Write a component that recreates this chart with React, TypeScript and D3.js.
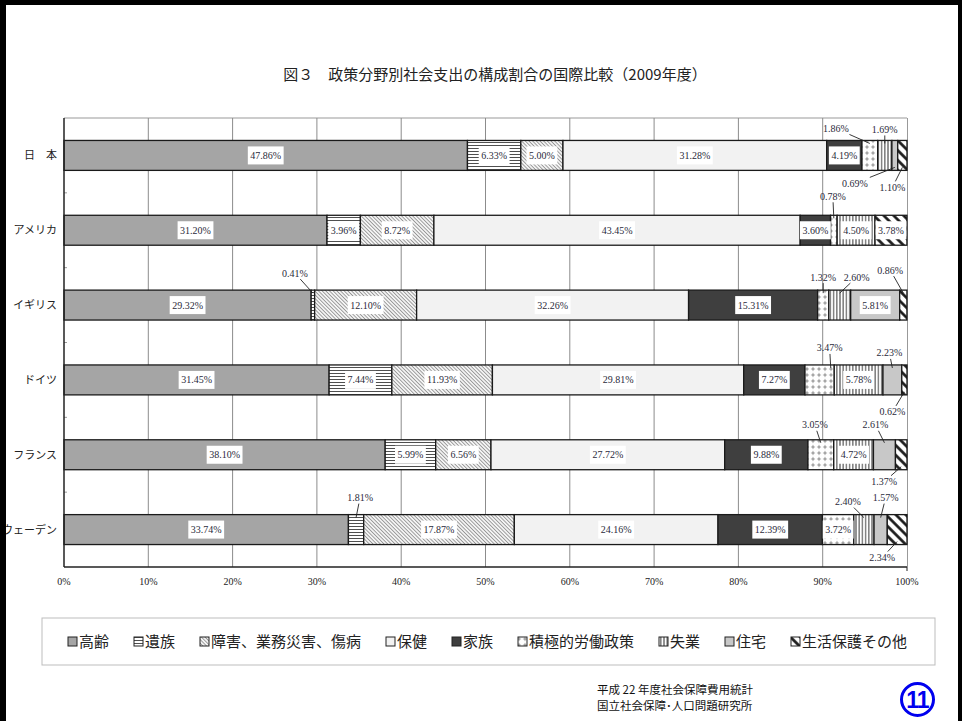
import React from 'react';
import * as d3 from 'd3';

const countries = ['日　本', 'アメリカ', 'イギリス', 'ドイツ', 'フランス', 'スウェーデン'];
const categories = ['高齢', '遺族', '障害、業務災害、傷病', '保健', '家族', '積極的労働政策', '失業', '住宅', '生活保護その他'];

const aged = [47.86, 31.2, 29.32, 31.45, 38.1, 33.74];
const survivors = [6.33, 3.96, 0.41, 7.44, 5.99, 1.81];
const disability = [5.0, 8.72, 12.1, 11.93, 6.56, 17.87];
const health = [31.28, 43.45, 32.26, 29.81, 27.72, 24.16];
const family = [4.19, 3.6, 15.31, 7.27, 9.88, 12.39];
const almp = [1.86, 0.78, 1.32, 3.47, 3.05, 3.72];
const unemployment = [1.69, 4.5, 2.6, 5.78, 4.72, 2.4];
const housing = [0.69, 0, 5.81, 2.23, 2.61, 1.57];
const other = [1.1, 3.78, 0.86, 0.62, 1.37, 2.34];

const seriesValues = [aged, survivors, disability, health, family, almp, unemployment, housing, other];
const xTicks = [0, 10, 20, 30, 40, 50, 60, 70, 80, 90, 100];

const title = '図３　政策分野別社会支出の構成割合の国際比較（2009年度）';
const footer1 = '平成 22 年度社会保障費用統計';
const footer2 = '国立社会保障･人口問題研究所';

// callout annotations: country index, category index, label offset from segment centre / bar edge
const callouts = [
  { c: 0, k: 5, dx: -34, dy: -12 },
  { c: 0, k: 6, dx: 0, dy: -11 },
  { c: 0, k: 7, dx: -40, dy: 13 },
  { c: 0, k: 8, dx: -10, dy: 17 },
  { c: 1, k: 5, dx: -1, dy: -19 },
  { c: 2, k: 1, dx: -18, dy: -17 },
  { c: 2, k: 5, dx: 0, dy: -13 },
  { c: 2, k: 6, dx: 17, dy: -13 },
  { c: 2, k: 8, dx: -13, dy: -20 },
  { c: 3, k: 5, dx: 10, dy: -17, tf: 0.88 },
  { c: 3, k: 7, dx: -3, dy: -12 },
  { c: 3, k: 8, dx: -12, dy: 17 },
  { c: 4, k: 5, dx: -6, dy: -15 },
  { c: 4, k: 7, dx: -9, dy: -15 },
  { c: 4, k: 8, dx: -17, dy: 12 },
  { c: 5, k: 1, dx: 4, dy: -17 },
  { c: 5, k: 6, dx: -16, dy: -13 },
  { c: 5, k: 7, dx: 5, dy: -17 },
  { c: 5, k: 8, dx: -15, dy: 13 },
];

const fills = ['#a5a5a5', 'url(#pSurv)', 'url(#pDis)', '#f2f2f2', '#3f3f3f', 'url(#pAlmp)', 'url(#pUnemp)', '#c8c8c8', 'url(#pOther)'];

const LABEL_FONT = '10px "Liberation Serif", "DejaVu Serif", serif';
const JP = '"Noto Sans CJK JP", "Noto Sans", sans-serif';

let _ctx: CanvasRenderingContext2D | null = null;
function textWidth(s: string, font: string) {
  if (!_ctx && typeof document !== 'undefined') _ctx = document.createElement('canvas').getContext('2d');
  if (!_ctx) return s.length * 5.5;
  _ctx.font = font;
  return _ctx.measureText(s).width;
}

const fmt = (v: number) => v.toFixed(2) + '%';

export default function App() {
  const W = 962, H = 721;
  const x = d3.scaleLinear().domain([0, 100]).range([64, 907]);
  const y = d3.scaleBand<string>().domain(countries).range([118, 567]).paddingInner(0.6).paddingOuter(0.3);
  const bw = y.bandwidth();

  const table = countries.map((c, i) => {
    const row: any = { country: c };
    categories.forEach((k, j) => (row[k] = seriesValues[j][i]));
    return row;
  });
  const stacked = d3.stack<any>().keys(categories)(table);

  const calloutSet = new Set(callouts.map((o) => `${o.c}-${o.k}`));

  const segs: any[] = [];
  stacked.forEach((s, k) => {
    s.forEach((d, i) => {
      const v = seriesValues[k][i];
      if (v <= 0) return;
      segs.push({ k, i, x0: x(d[0]), x1: x(d[1]), y0: y(countries[i])!, v });
    });
  });

  const step = y.step();
  const boundaries = d3.range(1, countries.length).map((j) => 118 + j * step);

  // legend layout
  const legendItems: { x: number; k: number }[] = [];
  let lx = 68;
  categories.forEach((c, k) => {
    legendItems.push({ x: lx, k });
    lx += 12 + c.length * 15 + 24;
  });

  return (
    <svg width={W} height={H} style={{ position: 'absolute', left: 0, top: 0, display: 'block', background: '#fff' }}>
      <defs>
        <pattern id="pSurv" width="4" height="3" patternUnits="userSpaceOnUse">
          <rect width="4" height="3" fill="#fff" />
          <line x1="0" y1="1.5" x2="4" y2="1.5" stroke="#222" strokeWidth="0.8" />
        </pattern>
        <pattern id="pDis" width="2.6" height="2.6" patternUnits="userSpaceOnUse" patternTransform="rotate(-45)">
          <rect width="2.6" height="2.6" fill="#f4f4f4" />
          <line x1="1.3" y1="0" x2="1.3" y2="2.6" stroke="#8a8a8a" strokeWidth="0.8" />
        </pattern>
        <pattern id="pAlmp" width="6" height="6" patternUnits="userSpaceOnUse">
          <rect width="6" height="6" fill="#fff" />
          <path d="M3,0.6 L3.8,2.2 L5.4,3 L3.8,3.8 L3,5.4 L2.2,3.8 L0.6,3 L2.2,2.2 Z" fill="#a0a0a0" />
        </pattern>
        <pattern id="pUnemp" width="3.2" height="4" patternUnits="userSpaceOnUse">
          <rect width="3.2" height="4" fill="#fff" />
          <line x1="1.6" y1="0" x2="1.6" y2="4" stroke="#222" strokeWidth="0.9" />
        </pattern>
        <pattern id="pOther" width="7" height="7" patternUnits="userSpaceOnUse" patternTransform="rotate(-45)">
          <rect width="7" height="7" fill="#fff" />
          <line x1="3.5" y1="0" x2="3.5" y2="7" stroke="#111" strokeWidth="2.6" />
        </pattern>
      </defs>

      {/* title */}
      <text x={495} y={80} textAnchor="middle" fontFamily={JP} fontSize={15} fill="#222">
        {title}
      </text>

      {/* plot area */}
      <line x1={x(0)} x2={x(100)} y1={118} y2={118} stroke="#999" strokeWidth={1} />
      <line x1={x(100) + 0.5} x2={x(100) + 0.5} y1={118} y2={567} stroke="#999" strokeWidth={1} />
      {xTicks.slice(1, -1).map((t) => (
        <line key={t} x1={x(t)} x2={x(t)} y1={118} y2={567} stroke="#8c8c8c" strokeWidth={1} />
      ))}
      {boundaries.map((b, j) => (
        <line key={j} x1={x(0)} x2={x(0) + 3} y1={b} y2={b} stroke="#999" strokeWidth={1} />
      ))}

      {/* bars */}
      {segs.map((s) => (
        <rect
          key={`${s.i}-${s.k}`}
          x={s.x0}
          y={s.y0}
          width={Math.max(0, s.x1 - s.x0)}
          height={bw}
          fill={fills[s.k]}
          stroke="#1a1a1a"
          strokeWidth={1.3}
        />
      ))}

      {/* inside labels */}
      {segs
        .filter((s) => !calloutSet.has(`${s.i}-${s.k}`))
        .map((s) => {
          const t = fmt(s.v);
          const w = textWidth(t, LABEL_FONT) + 5;
          const cx = (s.x0 + s.x1) / 2;
          const cy = s.y0 + bw / 2;
          return (
            <g key={`l${s.i}-${s.k}`}>
              <rect x={cx - w / 2} y={cy - 9} width={w} height={18} fill="#fff" />
              <text x={cx} y={cy + 3.5} textAnchor="middle" fontFamily='"Liberation Serif", serif' fontSize={10} fill="#2a2a3a">
                {t}
              </text>
            </g>
          );
        })}

      {/* callouts */}
      {callouts.map((o, n) => {
        const d = stacked[o.k][o.c];
        const frac = (o as any).tf ?? 0.5;
        const tx = x(d[0] + (d[1] - d[0]) * frac);
        const top = y(countries[o.c])!;
        const above = o.dy < 0;
        const edge = above ? top : top + bw;
        const ty = above ? edge + 3 : edge - 3;
        const lxp = x((d[0] + d[1]) / 2) + o.dx;
        const lyp = edge + o.dy;
        const vx = tx - lxp, vy = ty - lyp;
        const hw = 15, hh = 6;
        const tt = Math.min(vx ? hw / Math.abs(vx) : Infinity, vy ? hh / Math.abs(vy) : Infinity);
        const sx = lxp + vx * Math.min(tt, 0.9);
        const sy = lyp + vy * Math.min(tt, 0.9);
        return (
          <g key={`c${n}`}>
            <line x1={sx} y1={sy} x2={tx} y2={ty} stroke="#222" strokeWidth={0.9} />
            <text x={lxp} y={lyp + 3.5} textAnchor="middle" fontFamily='"Liberation Serif", serif' fontSize={10} fill="#2a2a3a">
              {fmt(seriesValues[o.k][o.c])}
            </text>
          </g>
        );
      })}

      {/* axes */}
      <line x1={x(0)} x2={x(0)} y1={118} y2={567} stroke="#222" strokeWidth={1.5} />
      <line x1={x(0)} x2={x(100)} y1={567} y2={567} stroke="#222" strokeWidth={1.5} />
      <line x1={x(100)} x2={x(100)} y1={567} y2={571} stroke="#222" strokeWidth={1} />
      {xTicks.map((t) => (
        <text key={t} x={x(t)} y={585} textAnchor="middle" fontFamily='"Liberation Serif", serif' fontSize={10} fill="#222">
          {t}%
        </text>
      ))}
      {countries.map((c) => (
        <text key={c} x={57} y={y(c)! + bw / 2 + 4} textAnchor="end" fontFamily={JP} fontSize={11} fill="#222">
          {c}
        </text>
      ))}

      {/* legend */}
      <rect x={42} y={618} width={893} height={47} fill="#fff" stroke="#bdbdbd" strokeWidth={1} />
      {legendItems.map((it) => (
        <g key={it.k}>
          <rect x={it.x} y={637} width={9} height={9} fill={fills[it.k]} stroke="#222" strokeWidth={1} />
          <text x={it.x + 11} y={647} fontFamily={JP} fontSize={15} fill="#222">
            {categories[it.k]}
          </text>
        </g>
      ))}

      {/* footer */}
      <text x={597} y={694} fontFamily={JP} fontSize={11.5} fill="#111">{footer1}</text>
      <text x={597} y={710} fontFamily={JP} fontSize={11.5} fill="#111">{footer2}</text>
      <circle cx={917.5} cy={699.5} r={16} fill="none" stroke="#0000ee" strokeWidth={3} />
      <text x={917.5} y={708} textAnchor="middle" fontFamily='"Liberation Sans", Arial, sans-serif' fontWeight="bold" fontSize={23} fill="#0000ee" letterSpacing={-1}>
        11
      </text>

      {/* outer frame (drawn last so it clips the long label at the left edge) */}
      <rect x={0} y={0} width={W} height={5} fill="#000" />
      <rect x={0} y={0} width={6} height={H} fill="#000" />
      <rect x={958} y={0} width={4} height={H} fill="#000" />
    </svg>
  );
}
